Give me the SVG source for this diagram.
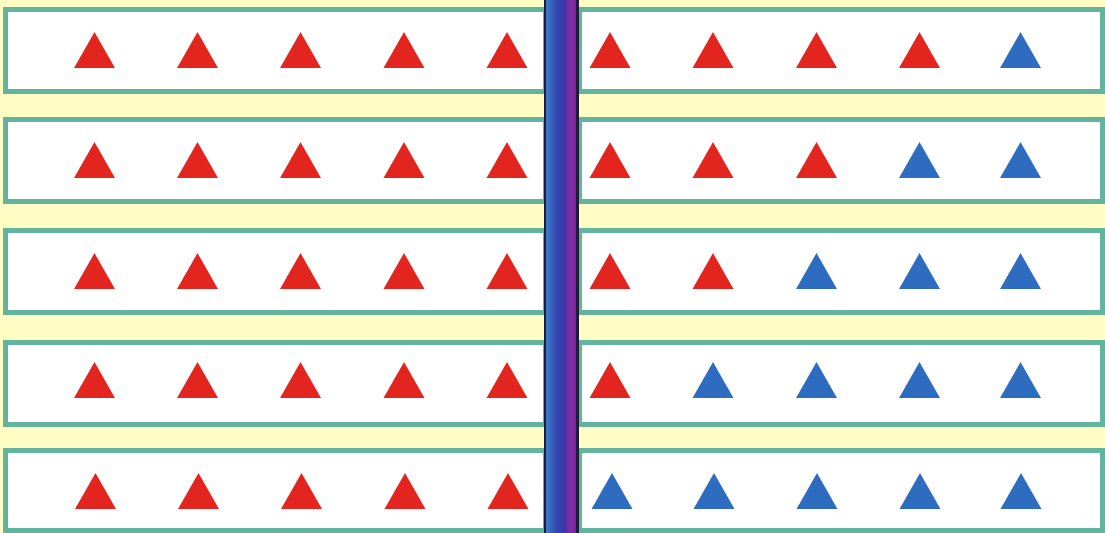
<svg xmlns="http://www.w3.org/2000/svg" width="1105" height="533" viewBox="0 0 1105 533">
<defs>
<style>
.box{fill:#ffffff;stroke:#63b49f;stroke-width:5}
.r{fill:#e2261f}
.b{fill:#2e6cc0}
</style>
<linearGradient id="bar" x1="0" y1="0" x2="1" y2="0">
<stop offset="0" stop-color="#3f7ac8"/>
<stop offset="0.35" stop-color="#3448b2"/>
<stop offset="0.62" stop-color="#3a35a8"/>
<stop offset="0.82" stop-color="#8a2ca6"/>
<stop offset="1" stop-color="#70289a"/>
</linearGradient>
<path id="t" d="M0,0 L20.5,36 L-20.5,36 Z"/>
</defs>
<rect width="1105" height="533" fill="#fffcc4"/>
<g id="row1">
<rect class="box" x="5.5" y="9.5" width="540" height="82"/>
<rect class="box" x="579.5" y="9.5" width="523" height="82"/>
<use href="#t" class="r" x="94.5" y="32"/><use href="#t" class="r" x="197.5" y="32"/><use href="#t" class="r" x="300.5" y="32"/><use href="#t" class="r" x="404" y="32"/><use href="#t" class="r" x="507" y="32"/>
<use href="#t" class="r" x="610" y="32"/><use href="#t" class="r" x="713" y="32"/><use href="#t" class="r" x="816.5" y="32"/><use href="#t" class="r" x="919.5" y="32"/><use href="#t" class="b" x="1020.5" y="32"/>
</g>
<g id="row2">
<rect class="box" x="5.5" y="119.5" width="540" height="82"/>
<rect class="box" x="579.5" y="119.5" width="523" height="82"/>
<use href="#t" class="r" x="94.5" y="142"/><use href="#t" class="r" x="197.5" y="142"/><use href="#t" class="r" x="300.5" y="142"/><use href="#t" class="r" x="404" y="142"/><use href="#t" class="r" x="507" y="142"/>
<use href="#t" class="r" x="610" y="142"/><use href="#t" class="r" x="713" y="142"/><use href="#t" class="r" x="816.5" y="142"/><use href="#t" class="b" x="919.5" y="142"/><use href="#t" class="b" x="1020.5" y="142"/>
</g>
<g id="row3">
<rect class="box" x="5.5" y="230.5" width="540" height="82"/>
<rect class="box" x="579.5" y="230.5" width="523" height="82"/>
<use href="#t" class="r" x="94.5" y="253"/><use href="#t" class="r" x="197.5" y="253"/><use href="#t" class="r" x="300.5" y="253"/><use href="#t" class="r" x="404" y="253"/><use href="#t" class="r" x="507" y="253"/>
<use href="#t" class="r" x="610" y="253"/><use href="#t" class="r" x="713" y="253"/><use href="#t" class="b" x="816.5" y="253"/><use href="#t" class="b" x="919.5" y="253"/><use href="#t" class="b" x="1020.5" y="253"/>
</g>
<g id="row4">
<rect class="box" x="5.5" y="342.5" width="540" height="82"/>
<rect class="box" x="579.5" y="342.5" width="523" height="82"/>
<use href="#t" class="r" x="94.5" y="362"/><use href="#t" class="r" x="197.5" y="362"/><use href="#t" class="r" x="300.5" y="362"/><use href="#t" class="r" x="404" y="362"/><use href="#t" class="r" x="507" y="362"/>
<use href="#t" class="r" x="610" y="362"/><use href="#t" class="b" x="713" y="362"/><use href="#t" class="b" x="816.5" y="362"/><use href="#t" class="b" x="919.5" y="362"/><use href="#t" class="b" x="1020.5" y="362"/>
</g>
<g id="row5">
<rect class="box" x="5.5" y="450.5" width="540" height="80"/>
<rect class="box" x="579.5" y="450.5" width="523" height="80"/>
<use href="#t" class="r" x="95.5" y="473"/><use href="#t" class="r" x="198.5" y="473"/><use href="#t" class="r" x="301.5" y="473"/><use href="#t" class="r" x="405" y="473"/><use href="#t" class="r" x="508" y="473"/>
<use href="#t" class="b" x="612" y="473"/><use href="#t" class="b" x="714" y="473"/><use href="#t" class="b" x="817" y="473"/><use href="#t" class="b" x="920" y="473"/><use href="#t" class="b" x="1021" y="473"/>
</g>
<g id="divider">
<rect x="544" y="0" width="35" height="533" fill="#1d1d3a"/>
<rect x="546" y="0" width="30" height="533" fill="url(#bar)"/>
</g>
</svg>
